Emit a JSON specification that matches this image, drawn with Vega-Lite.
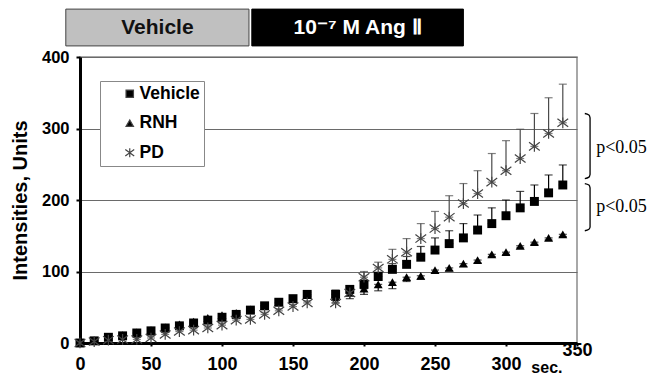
{
  "$schema": "https://vega.github.io/schema/vega-lite/v6.json",
  "background": "white",
  "padding": {"left": 10, "top": 8, "right": 0, "bottom": 0},
  "width": 497,
  "height": 286,
  "config": {
    "view": {"stroke": "#8c8c8c", "strokeWidth": 1.5},
    "font": "Liberation Sans",
    "legend": {"orient": "none", "legendX": 20, "legendY": 24, "fillColor": "white", "strokeColor": "#888888", "padding": 4, "symbolOffset": 17, "labelFontSize": 17.5, "labelFontWeight": "bold", "labelColor": "#000", "labelOffset": 1, "rowPadding": 10.5, "symbolStrokeWidth": 1.2, "symbolStrokeColor": "#444444", "symbolSize": 55, "labelExpr": "datum.label + '          '"}
  },
  "datasets": {
    "hdr": [
      {"label": "Vehicle", "start": -10, "end": 119, "mid": 54.5},
      {"label": "10⁻⁷ M  Ang Ⅱ", "start": 121, "end": 270, "mid": 195.5}
    ],
    "pts": [
      {"t": 0, "s": "Vehicle", "v": 0, "lo": 0, "hi": 1},
      {"t": 10, "s": "Vehicle", "v": 3, "lo": 3, "hi": 5},
      {"t": 20, "s": "Vehicle", "v": 8, "lo": 8, "hi": 10},
      {"t": 30, "s": "Vehicle", "v": 10, "lo": 10, "hi": 13},
      {"t": 40, "s": "Vehicle", "v": 14, "lo": 14, "hi": 17},
      {"t": 50, "s": "Vehicle", "v": 17, "lo": 17, "hi": 20},
      {"t": 60, "s": "Vehicle", "v": 21, "lo": 21, "hi": 24},
      {"t": 70, "s": "Vehicle", "v": 24, "lo": 24, "hi": 27},
      {"t": 80, "s": "Vehicle", "v": 28, "lo": 28, "hi": 31},
      {"t": 90, "s": "Vehicle", "v": 32, "lo": 32, "hi": 35},
      {"t": 100, "s": "Vehicle", "v": 36, "lo": 36, "hi": 39},
      {"t": 110, "s": "Vehicle", "v": 40, "lo": 40, "hi": 43},
      {"t": 120, "s": "Vehicle", "v": 46, "lo": 46, "hi": 49},
      {"t": 130, "s": "Vehicle", "v": 52, "lo": 52, "hi": 55},
      {"t": 140, "s": "Vehicle", "v": 57, "lo": 57, "hi": 60},
      {"t": 150, "s": "Vehicle", "v": 62, "lo": 62, "hi": 65},
      {"t": 160, "s": "Vehicle", "v": 68, "lo": 68, "hi": 71},
      {"t": 180, "s": "Vehicle", "v": 68, "lo": 68, "hi": 74},
      {"t": 190, "s": "Vehicle", "v": 75, "lo": 75, "hi": 80},
      {"t": 200, "s": "Vehicle", "v": 82, "lo": 82, "hi": 88},
      {"t": 210, "s": "Vehicle", "v": 93, "lo": 93, "hi": 99},
      {"t": 220, "s": "Vehicle", "v": 103, "lo": 103, "hi": 111},
      {"t": 230, "s": "Vehicle", "v": 110, "lo": 110, "hi": 121},
      {"t": 240, "s": "Vehicle", "v": 120, "lo": 120, "hi": 135},
      {"t": 250, "s": "Vehicle", "v": 130, "lo": 130, "hi": 147},
      {"t": 260, "s": "Vehicle", "v": 139, "lo": 139, "hi": 157},
      {"t": 270, "s": "Vehicle", "v": 147, "lo": 147, "hi": 167},
      {"t": 280, "s": "Vehicle", "v": 158, "lo": 158, "hi": 179},
      {"t": 290, "s": "Vehicle", "v": 167, "lo": 167, "hi": 189},
      {"t": 300, "s": "Vehicle", "v": 178, "lo": 178, "hi": 200},
      {"t": 310, "s": "Vehicle", "v": 189, "lo": 189, "hi": 212},
      {"t": 320, "s": "Vehicle", "v": 198, "lo": 198, "hi": 221},
      {"t": 330, "s": "Vehicle", "v": 210, "lo": 210, "hi": 235},
      {"t": 340, "s": "Vehicle", "v": 221, "lo": 221, "hi": 249},
      {"t": 0, "s": "RNH", "v": 0, "lo": 0, "hi": 0},
      {"t": 10, "s": "RNH", "v": 3, "lo": 1, "hi": 3},
      {"t": 20, "s": "RNH", "v": 8, "lo": 6, "hi": 8},
      {"t": 30, "s": "RNH", "v": 11, "lo": 9, "hi": 11},
      {"t": 40, "s": "RNH", "v": 15, "lo": 13, "hi": 15},
      {"t": 50, "s": "RNH", "v": 18, "lo": 16, "hi": 18},
      {"t": 60, "s": "RNH", "v": 22, "lo": 20, "hi": 22},
      {"t": 70, "s": "RNH", "v": 26, "lo": 24, "hi": 26},
      {"t": 80, "s": "RNH", "v": 30, "lo": 28, "hi": 30},
      {"t": 90, "s": "RNH", "v": 35, "lo": 33, "hi": 35},
      {"t": 100, "s": "RNH", "v": 39, "lo": 37, "hi": 39},
      {"t": 110, "s": "RNH", "v": 42, "lo": 40, "hi": 42},
      {"t": 120, "s": "RNH", "v": 47, "lo": 45, "hi": 47},
      {"t": 130, "s": "RNH", "v": 52, "lo": 50, "hi": 52},
      {"t": 140, "s": "RNH", "v": 57, "lo": 55, "hi": 57},
      {"t": 150, "s": "RNH", "v": 62, "lo": 60, "hi": 62},
      {"t": 160, "s": "RNH", "v": 67, "lo": 65, "hi": 67},
      {"t": 180, "s": "RNH", "v": 64, "lo": 56, "hi": 64},
      {"t": 190, "s": "RNH", "v": 70, "lo": 62, "hi": 70},
      {"t": 200, "s": "RNH", "v": 76, "lo": 68, "hi": 76},
      {"t": 210, "s": "RNH", "v": 82, "lo": 73, "hi": 82},
      {"t": 220, "s": "RNH", "v": 85, "lo": 76, "hi": 85},
      {"t": 230, "s": "RNH", "v": 92, "lo": 86, "hi": 92},
      {"t": 240, "s": "RNH", "v": 94, "lo": 89, "hi": 94},
      {"t": 250, "s": "RNH", "v": 102, "lo": 98, "hi": 102},
      {"t": 260, "s": "RNH", "v": 105, "lo": 101, "hi": 105},
      {"t": 270, "s": "RNH", "v": 111, "lo": 107, "hi": 111},
      {"t": 280, "s": "RNH", "v": 116, "lo": 112, "hi": 116},
      {"t": 290, "s": "RNH", "v": 124, "lo": 121, "hi": 124},
      {"t": 300, "s": "RNH", "v": 127, "lo": 124, "hi": 127},
      {"t": 310, "s": "RNH", "v": 136, "lo": 133, "hi": 136},
      {"t": 320, "s": "RNH", "v": 141, "lo": 138, "hi": 141},
      {"t": 330, "s": "RNH", "v": 147, "lo": 144, "hi": 147},
      {"t": 340, "s": "RNH", "v": 152, "lo": 149, "hi": 152},
      {"t": 0, "s": "PD", "v": 0, "lo": 0, "hi": 1},
      {"t": 10, "s": "PD", "v": 2, "lo": 2, "hi": 4},
      {"t": 20, "s": "PD", "v": 4, "lo": 4, "hi": 6},
      {"t": 30, "s": "PD", "v": 5, "lo": 5, "hi": 7},
      {"t": 40, "s": "PD", "v": 5, "lo": 5, "hi": 8},
      {"t": 50, "s": "PD", "v": 7, "lo": 7, "hi": 10},
      {"t": 60, "s": "PD", "v": 12, "lo": 12, "hi": 15},
      {"t": 70, "s": "PD", "v": 16, "lo": 16, "hi": 19},
      {"t": 80, "s": "PD", "v": 18, "lo": 18, "hi": 21},
      {"t": 90, "s": "PD", "v": 21, "lo": 21, "hi": 24},
      {"t": 100, "s": "PD", "v": 25, "lo": 25, "hi": 28},
      {"t": 110, "s": "PD", "v": 32, "lo": 32, "hi": 35},
      {"t": 120, "s": "PD", "v": 33, "lo": 33, "hi": 36},
      {"t": 130, "s": "PD", "v": 40, "lo": 40, "hi": 43},
      {"t": 140, "s": "PD", "v": 45, "lo": 45, "hi": 48},
      {"t": 150, "s": "PD", "v": 51, "lo": 51, "hi": 54},
      {"t": 160, "s": "PD", "v": 56, "lo": 56, "hi": 59},
      {"t": 180, "s": "PD", "v": 56, "lo": 56, "hi": 60},
      {"t": 190, "s": "PD", "v": 70, "lo": 70, "hi": 78},
      {"t": 200, "s": "PD", "v": 92, "lo": 92, "hi": 100},
      {"t": 210, "s": "PD", "v": 105, "lo": 105, "hi": 113},
      {"t": 220, "s": "PD", "v": 117, "lo": 117, "hi": 131},
      {"t": 230, "s": "PD", "v": 127, "lo": 127, "hi": 146},
      {"t": 240, "s": "PD", "v": 146, "lo": 146, "hi": 167},
      {"t": 250, "s": "PD", "v": 160, "lo": 160, "hi": 184},
      {"t": 260, "s": "PD", "v": 176, "lo": 176, "hi": 206},
      {"t": 270, "s": "PD", "v": 195, "lo": 195, "hi": 223},
      {"t": 280, "s": "PD", "v": 209, "lo": 209, "hi": 241},
      {"t": 290, "s": "PD", "v": 225, "lo": 225, "hi": 265},
      {"t": 300, "s": "PD", "v": 241, "lo": 241, "hi": 283},
      {"t": 310, "s": "PD", "v": 258, "lo": 258, "hi": 299},
      {"t": 320, "s": "PD", "v": 275, "lo": 275, "hi": 321},
      {"t": 330, "s": "PD", "v": 293, "lo": 293, "hi": 343},
      {"t": 340, "s": "PD", "v": 308, "lo": 308, "hi": 362}
    ],
    "brackets": [
      {"b": "upper", "o": 1, "bx": 355.5, "by": 321},
      {"b": "upper", "o": 2, "bx": 358.4, "by": 319},
      {"b": "upper", "o": 3, "bx": 359.2, "by": 315},
      {"b": "upper", "o": 4, "bx": 359.2, "by": 236},
      {"b": "upper", "o": 5, "bx": 358.4, "by": 232},
      {"b": "upper", "o": 6, "bx": 355.5, "by": 230},
      {"b": "lower", "o": 1, "bx": 355.5, "by": 223},
      {"b": "lower", "o": 2, "bx": 358.4, "by": 221},
      {"b": "lower", "o": 3, "bx": 359.2, "by": 217},
      {"b": "lower", "o": 4, "bx": 359.2, "by": 162},
      {"b": "lower", "o": 5, "bx": 358.4, "by": 159},
      {"b": "lower", "o": 6, "bx": 355.5, "by": 157}
    ],
    "pvals": [
      {"px": 363.5, "py": 273, "txt": "p<0.05"},
      {"px": 363.5, "py": 190, "txt": "p<0.05"}
    ]
  },
  "layer": [
    {
      "data": {"name": "pts"},
      "mark": {"type": "errorbar", "ticks": {"size": 8}, "thickness": 1.2},
      "encoding": {
        "x": {"field": "t", "type": "quantitative", "title": "sec."},
        "y": {"field": "lo", "type": "quantitative", "title": "Intensities, Units"},
        "y2": {"field": "hi"},
        "color": {"condition": {"test": "datum.s == 'PD'", "value": "#4a4a4a"}, "value": "#000000"}
      }
    },
    {
      "data": {"name": "pts"},
      "mark": {"type": "point", "filled": true, "strokeWidth": 1.2, "opacity": 1, "size": 80},
      "encoding": {
        "x": {"field": "t", "type": "quantitative", "scale": {"domain": [0, 350], "nice": false},
          "axis": {"values": [0, 50, 100, 150, 200, 250, 300, 350], "title": "sec.", "titleX": 482, "titleY": 29, "titleAlign": "right", "titleBaseline": "alphabetic", "titleFontSize": 16, "titleFontWeight": "bold", "titleColor": "#000", "labelFontSize": 18, "labelFontWeight": "bold", "labelColor": "#000", "labelPadding": 9, "labelFlush": false, "labelBaseline": {"condition": {"test": "datum.value == 350", "value": "alphabetic"}, "value": "top"}, "grid": false, "domainColor": "#000", "domainWidth": 3, "tickColor": "#000", "tickWidth": 2, "tickSize": 3}},
        "y": {"field": "v", "type": "quantitative", "scale": {"domain": [0, 400], "nice": false},
          "axis": {"values": [0, 100, 200, 300, 400], "title": "Intensities, Units", "titleFontSize": 20, "titleFontWeight": "bold", "titleColor": "#000", "titlePadding": 11, "labelFontSize": 16.5, "labelFontWeight": "bold", "labelColor": "#000", "labelPadding": 7, "grid": true, "gridColor": "#6a6a6a", "gridWidth": 1.2, "domainColor": "#000", "domainWidth": 3, "tickColor": "#000", "tickWidth": 2, "tickSize": 4}},
        "shape": {"field": "s", "type": "nominal", "title": null, "scale": {"domain": ["Vehicle", "RNH", "PD"], "range": ["square", "triangle-up", "M-1.2,-0.9L1.2,0.9M-1.2,0.9L1.2,-0.9M0,-1.2L0,1.2"]}},
        "color": {"field": "s", "type": "nominal", "title": null, "scale": {"domain": ["Vehicle", "RNH", "PD"], "range": ["#000000", "#000000", "#444444"]}},
        "stroke": {"condition": {"test": "datum.s == 'PD'", "value": "#444444"}, "value": null}
      }
    },
    {
      "data": {"name": "hdr"},
      "mark": {"type": "rect", "strokeWidth": 1},
      "encoding": {
        "x": {"field": "start", "type": "quantitative"},
        "x2": {"field": "end"},
        "y": {"datum": 415.5, "type": "quantitative"},
        "y2": {"datum": 467},
        "fill": {"condition": {"test": "datum.label == 'Vehicle'", "value": "#c0c0c0"}, "value": "#000000"},
        "stroke": {"condition": {"test": "datum.label == 'Vehicle'", "value": "#444444"}, "value": "#000000"}
      }
    },
    {
      "data": {"name": "hdr"},
      "mark": {"type": "text", "font": "Liberation Sans", "fontWeight": "bold", "fontSize": 21, "baseline": "middle", "align": "center"},
      "encoding": {
        "x": {"field": "mid", "type": "quantitative"},
        "y": {"datum": 441, "type": "quantitative"},
        "text": {"field": "label"},
        "color": {"condition": {"test": "datum.label == 'Vehicle'", "value": "#111111"}, "value": "#ffffff"}
      }
    },
    {
      "data": {"name": "brackets"},
      "mark": {"type": "line", "color": "#000", "strokeWidth": 1.3, "interpolate": "monotone"},
      "encoding": {
        "x": {"field": "bx", "type": "quantitative"},
        "y": {"field": "by", "type": "quantitative"},
        "detail": {"field": "b"},
        "order": {"field": "o"}
      }
    },
    {
      "data": {"name": "pvals"},
      "mark": {"type": "text", "font": "Liberation Serif", "fontSize": 18, "align": "left", "baseline": "middle", "color": "#000"},
      "encoding": {
        "x": {"field": "px", "type": "quantitative"},
        "y": {"field": "py", "type": "quantitative"},
        "text": {"field": "txt"}
      }
    }
  ]
}
